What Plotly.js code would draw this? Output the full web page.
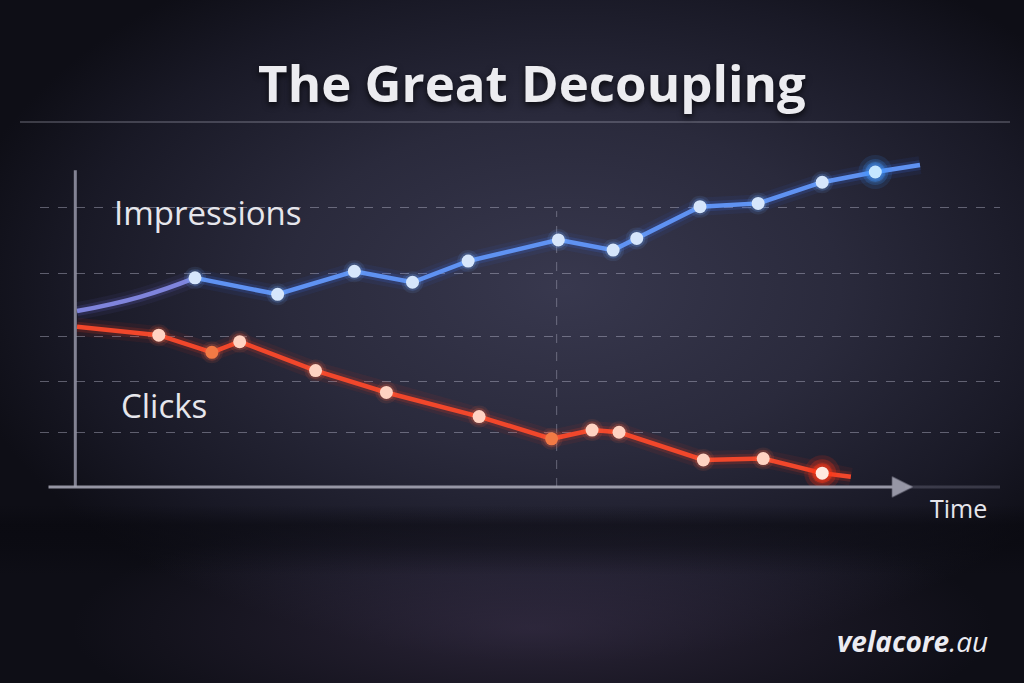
<!DOCTYPE html>
<html>
<head>
<meta charset="utf-8">
<script src="https://cdn.plot.ly/plotly-3.0.1.min.js"></script>
<style>
  html, body { margin: 0; padding: 0; width: 1024px; height: 683px; overflow: hidden; background: #161622; }
  #bg {
    position: absolute; left: 0; top: 0; width: 1024px; height: 683px;
    background:
      linear-gradient(180deg, rgba(0,0,0,0) 505px, rgba(8,8,14,0.55) 525px, rgba(8,8,14,0.45) 545px, rgba(0,0,0,0) 575px),
      radial-gradient(ellipse 45% 18% at 52% 92%, rgba(70,58,88,0.5) 0%, rgba(0,0,0,0) 100%),
      radial-gradient(ellipse 60% 55% at 55% 42%, rgba(56,56,78,1) 0%, rgba(42,42,60,1) 45%, rgba(25,25,38,1) 80%, rgba(14,14,22,1) 100%);
  }
  #chart { position: absolute; left: 0; top: 0; width: 1024px; height: 683px; }
</style>
</head>
<body>
<div id="bg"></div>
<div id="chart"></div>
<script>
// ---- data (time index, value 0-100) ----
const impressionsTime  = [0, 7.5, 14.0, 23.8, 32.9, 39.8, 46.4, 57.1, 63.6, 66.4, 73.9, 80.8, 88.4, 94.7, 100];
const impressionsValue = [48.2, 52.1, 57.3, 52.8, 59.1, 56.1, 61.9, 67.7, 64.9, 68.1, 76.8, 77.7, 83.5, 86.3, 88.2];
const clicksTime  = [0, 9.7, 16.0, 19.3, 28.3, 36.7, 47.7, 56.3, 61.1, 64.3, 74.3, 81.4, 88.4, 91.8];
const clicksValue = [43.9, 41.6, 36.9, 39.8, 31.9, 25.9, 19.3, 13.2, 15.6, 15.0, 7.4, 7.8, 3.8, 2.8];
const gridValues = [14.9, 29.0, 41.1, 58.6, 76.6];
const markerTime = 56.9;
const seriesLabels = ["Impressions", "Clicks"];
const titleText = "The Great Decoupling";
const axisLabel = "Time";
const brand = "velacore.au";

// which points carry markers (first/last are unmarked line ends, index 1 of impressions is a curve reading)
const impMarked = [2,3,4,5,6,7,8,9,10,11,12,13];
const clkMarked = [1,2,3,4,5,6,7,8,9,10,11,12];
const clkDim = [2, 7];

const pick = (arr, idx) => idx.map(i => arr[i]);

// pixel helpers for paper placement (plot area x 40..1000, y 122..487)
const L = 40, R = 1000, T = 122, B = 487;
const px = x => (x - L) / (R - L);
const py = y => (B - y) / (B - T);

const traces = [];
function lineSet(x, y, color, glow, shape) {
  traces.push({x, y, mode: 'lines', line: {color: glow.replace('A', '0.07'), width: 18, shape, smoothing: 1.3}, hoverinfo: 'skip', showlegend: false});
  traces.push({x, y, mode: 'lines', line: {color: glow.replace('A', '0.16'), width: 10, shape, smoothing: 1.3}, hoverinfo: 'skip', showlegend: false});
  traces.push({x, y, mode: 'lines', line: {color, width: 4.5, shape, smoothing: 1.3}, hoverinfo: 'skip', showlegend: false});
}
// impressions lead-in curve + main line
lineSet(impressionsTime.slice(0, 3), impressionsValue.slice(0, 3), '#7f84dc', 'rgba(110,110,230,A)', 'spline');
lineSet(impressionsTime.slice(2), impressionsValue.slice(2), '#5f92f2', 'rgba(60,120,255,A)', 'linear');
// clicks
lineSet(clicksTime, clicksValue, '#f1472b', 'rgba(255,60,30,A)', 'linear');

// marker glows
const impMx = pick(impressionsTime, impMarked), impMy = pick(impressionsValue, impMarked);
const clkMx = pick(clicksTime, clkMarked), clkMy = pick(clicksValue, clkMarked);
function glow(x, y, rgb, sizes, alphas) {
  sizes.forEach((s, k) => traces.push({x, y, mode: 'markers', marker: {size: s, color: 'rgba(' + rgb + ',' + alphas[k] + ')'}, hoverinfo: 'skip', showlegend: false}));
}
glow(impMx, impMy, '120,175,255', [22, 17], [0.10, 0.18]);
glow(clkMx, clkMy, '255,110,70', [22, 17], [0.10, 0.18]);
// strong glows on final points
glow([impMx[impMx.length-1]], [impMy[impMy.length-1]], '60,150,255', [34, 26, 20], [0.12, 0.2, 0.35]);
glow([clkMx[clkMx.length-1]], [clkMy[clkMy.length-1]], '255,50,20', [36, 28, 20], [0.15, 0.25, 0.45]);
// markers
const impColors = impMx.map((_, i) => i === impMx.length - 1 ? '#c4e6ff' : '#d6e6fb');
const clkColors = clkMx.map((_, i) => clkDim.includes(i + 1) ? '#f27a45' : (i === clkMx.length - 1 ? '#ffeae0' : '#ffd3c2'));
traces.push({x: impMx, y: impMy, mode: 'markers', name: seriesLabels[0], marker: {size: 13, color: impColors}, showlegend: false});
traces.push({x: clkMx, y: clkMy, mode: 'markers', name: seriesLabels[1], marker: {size: 13, color: clkColors}, showlegend: false});

const txt = '#e6e6ec';
const layout = {
  width: 1024, height: 683,
  paper_bgcolor: 'rgba(0,0,0,0)', plot_bgcolor: 'rgba(0,0,0,0)',
  margin: {l: L, r: 1024 - R, t: T, b: 683 - B, pad: 0},
  showlegend: false,
  title: {
    text: '<b>' + titleText + '</b>', x: 532 / 1024, xref: 'container', xanchor: 'center',
    y: 1 - 84 / 683, yref: 'container', yanchor: 'middle',
    font: {family: 'Open Sans', size: 51, color: '#ececf0', shadow: '0px 3px 6px rgba(0,0,0,0.75)'}
  },
  xaxis: {range: [(L - 77) / 8.43, (R - 77) / 8.43], showgrid: false, zeroline: false, showticklabels: false, ticks: '', showline: false, fixedrange: true},
  yaxis: {range: [0, 100], tickvals: gridValues, showgrid: true, gridcolor: 'rgba(200,200,220,0.4)', griddash: 'dash', gridwidth: 1,
          zeroline: false, showticklabels: false, ticks: '', showline: false, fixedrange: true},
  shapes: [
    // rule under title
    {type: 'line', xref: 'paper', yref: 'paper', x0: px(20), x1: px(1010), y0: 1, y1: 1, line: {color: 'rgba(200,200,215,0.33)', width: 1.5}},
    // vertical dashed marker
    {type: 'line', xref: 'x', yref: 'y', x0: markerTime, x1: markerTime, y0: 0, y1: gridValues[4] - 1, line: {color: 'rgba(200,200,220,0.38)', width: 1, dash: 'dash'}, layer: 'below'},
    // y axis
    {type: 'line', xref: 'x', yref: 'y', x0: -0.2, x1: -0.2, y0: 0, y1: 86.8, line: {color: 'rgba(150,150,168,0.85)', width: 3}},
    // faint extension of x axis
    {type: 'line', xref: 'paper', yref: 'paper', x0: px(905), x1: 1, y0: 0, y1: 0, line: {color: 'rgba(140,140,158,0.3)', width: 3}}
  ],
  annotations: [
    {xref: 'x', yref: 'y', axref: 'x', ayref: 'y', x: (913 - 77) / 8.43, y: 0, ax: (47 - 77) / 8.43, ay: 0, text: '', showarrow: true,
     arrowhead: 2, arrowsize: 1.4, arrowwidth: 3, arrowcolor: 'rgba(165,165,180,0.9)', standoff: 0},
    {xref: 'paper', yref: 'paper', x: px(112), y: py(212), xanchor: 'left', yanchor: 'middle', text: seriesLabels[0], showarrow: false,
     font: {family: 'Open Sans', size: 33, color: txt}},
    {xref: 'paper', yref: 'paper', x: px(119), y: py(405), xanchor: 'left', yanchor: 'middle', text: seriesLabels[1], showarrow: false,
     font: {family: 'Open Sans', size: 33, color: txt}},
    {xref: 'paper', yref: 'paper', x: px(928), y: py(508), xanchor: 'left', yanchor: 'middle', text: axisLabel, showarrow: false,
     font: {family: 'Open Sans', size: 25, color: txt}},
    {xref: 'paper', yref: 'paper', x: px(990), y: py(641), xanchor: 'right', yanchor: 'middle',
     text: '<i><b>' + brand.split('.')[0] + '</b>.' + brand.split('.')[1] + '</i>', showarrow: false,
     font: {family: 'Open Sans', size: 28, color: '#ececf2'}}
  ]
};

Plotly.newPlot('chart', traces, layout, {displayModeBar: false, staticPlot: true});
</script>
</body>
</html>
